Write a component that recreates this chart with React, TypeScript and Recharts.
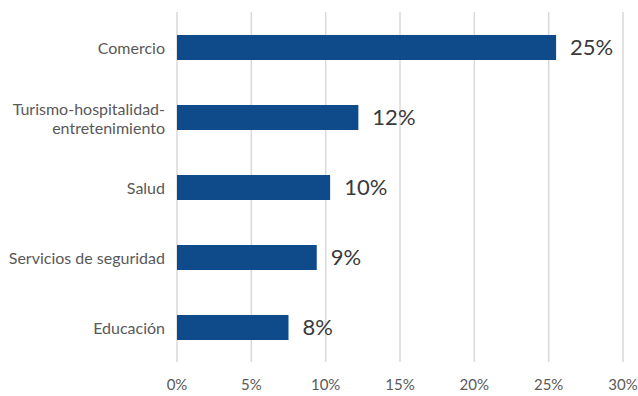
import { BarChart, Bar, XAxis, YAxis, CartesianGrid, LabelList } from "recharts";

const categories = [
  "Comercio",
  "Turismo-hospitalidad-\nentretenimiento",
  "Salud",
  "Servicios de seguridad",
  "Educación",
];
const shares = [25.5, 12.2, 10.3, 9.4, 7.5];
const shareLabels = ["25%", "12%", "10%", "9%", "8%"];
const xTicks = [0, 5, 10, 15, 20, 25, 30];

const data = categories.map((name, i) => ({
  name,
  value: shares[i],
  label: shareLabels[i],
}));

const FONT = "Lato, 'Open Sans', sans-serif";

function CategoryTick(props: any) {
  const { x, y, payload } = props;
  const lines = String(payload.value).split("\n");
  const lh = 19;
  const startY = y - ((lines.length - 1) * lh) / 2;
  return (
    <text
      x={x}
      y={startY}
      textAnchor="end"
      fill="#595959"
      fontSize={16}
      fontFamily={FONT}
      dominantBaseline="central"
    >
      {lines.map((l, i) => (
        <tspan key={i} x={x} y={startY + i * lh}>
          {l}
        </tspan>
      ))}
    </text>
  );
}

export default function App() {
  return (
    <div style={{ position: "absolute", left: 0, top: 0, background: "#fff" }}>
      <BarChart
        width={638}
        height={396}
        data={data}
        layout="vertical"
        margin={{ top: 12, right: 15, left: 0, bottom: 0 }}
        barCategoryGap={0}
      >
        <CartesianGrid horizontal={false} stroke="#d9d9d9" strokeWidth={1.5} />
        <XAxis
          type="number"
          domain={[0, 30]}
          ticks={xTicks}
          tickFormatter={(v) => `${v}%`}
          axisLine={false}
          tickLine={false}
          height={34}
          tickMargin={11}
          tick={{ fill: "#595959", fontSize: 15, fontFamily: FONT }}
        />
        <YAxis
          type="category"
          dataKey="name"
          width={177}
          axisLine={false}
          tickLine={false}
          tickMargin={6}
          tick={<CategoryTick />}
        />
        <Bar dataKey="value" fill="#0F4B8A" barSize={25} isAnimationActive={false}>
          <LabelList
            dataKey="label"
            position="right"
            offset={14}
            fill="#3a3a3a"
            fontSize={22}
            fontFamily={FONT}
          />
        </Bar>
      </BarChart>
    </div>
  );
}
